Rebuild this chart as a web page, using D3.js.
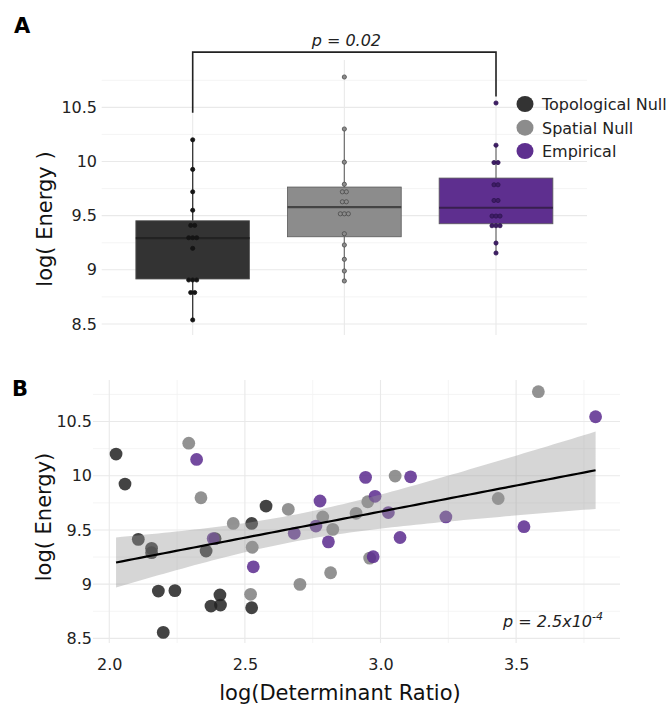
<!DOCTYPE html>
<html>
<head>
<meta charset="utf-8">
<script src="https://cdn.jsdelivr.net/npm/d3@7"></script>
<style>
  body { margin: 0; background: #fff; }
  text { font-family: "DejaVu Sans", Verdana, sans-serif; }
</style>
</head>
<body>
<div id="chart-container"></div>
<script>
var width = 672
var height = 704

// groups
var groups = ['Topological Null', 'Spatial Null', 'Empirical']
var color = ['#333333', '#8c8c8c', '#5e2f8f']
var dotFill = ['#141414', '#8c8c8c', '#3f1d66']
var dotStroke = ['#141414', '#4a4a4a', '#2d1450']
var whiskerColor = ['#333333', '#777777', '#777777']
var medianColor = ['#222222', '#444444', '#38204f']

// panel A box stats
var boxLo = [8.54, 8.897, 9.155]
var boxQ1 = [8.915, 9.305, 9.425]
var boxMed = [9.293, 9.579, 9.573]
var boxQ3 = [9.453, 9.764, 9.847]
var boxHi = [10.2, 10.30, 10.15]

// panel A dotplot bins (one entry per dot)
var topoDots = [10.2, 9.927, 9.72, 9.55, 9.41, 9.41, 9.296, 9.296, 9.296, 9.198, 8.906, 8.906, 8.906, 8.79, 8.79, 8.537]
var spatDots = [10.78, 10.30, 9.994, 9.79, 9.72, 9.72, 9.628, 9.628, 9.517, 9.517, 9.517, 9.333, 9.229, 9.097, 8.989, 8.897]
var empDots = [10.54, 10.15, 9.99, 9.99, 9.785, 9.785, 9.64, 9.64, 9.496, 9.496, 9.496, 9.407, 9.407, 9.407, 9.247, 9.155]
var bracketY = [10.45, 11.01, 10.60]
var pA = 'p = 0.02'

// panel B scatter
var topoX = [2.025, 2.058, 2.107, 2.156, 2.156, 2.181, 2.242, 2.199, 2.357, 2.39, 2.375, 2.408, 2.41, 2.525, 2.525, 2.578]
var topoY = [10.20, 9.923, 9.413, 9.33, 9.29, 8.936, 8.94, 8.555, 9.305, 9.42, 8.798, 8.90, 8.807, 9.56, 8.782, 9.72]
var spatX = [2.293, 2.338, 2.457, 2.527, 2.521, 2.66, 2.703, 2.787, 2.824, 2.816, 2.91, 2.953, 2.96, 3.054, 3.434, 3.582]
var spatY = [10.30, 9.797, 9.56, 9.34, 8.906, 9.69, 8.998, 9.62, 9.505, 9.105, 9.653, 9.76, 9.24, 9.997, 9.79, 10.775]
var empX = [2.322, 2.383, 2.531, 2.682, 2.762, 2.777, 2.808, 2.945, 2.973, 2.98, 3.029, 3.072, 3.111, 3.241, 3.529, 3.793]
var empY = [10.15, 9.42, 9.16, 9.469, 9.536, 9.767, 9.39, 9.985, 9.253, 9.81, 9.66, 9.43, 9.99, 9.62, 9.53, 10.544]
var scatterFill = ['#222222', '#7f7f7f', '#5b2a8e']

var yTicks = [8.5, 9, 9.5, 10, 10.5]
var yMinor = [8.75, 9.25, 9.75, 10.25, 10.75]
var xTicksB = [2.0, 2.5, 3.0, 3.5]
var xMinorB = [2.25, 2.75, 3.25, 3.75]

var svg = d3.select("#chart-container").append("svg").attr('width', width).attr('height', height)

function grid(g, x0, x1, y0, y1, xs, ys, cls, col, sw) {
  ys.forEach(function(v){
    g.append('line').attr('x1', x0).attr('x2', x1).attr('y1', v).attr('y2', v).attr('stroke', col).attr('stroke-width', sw)
  })
  xs.forEach(function(v){
    g.append('line').attr('x1', v).attr('x2', v).attr('y1', y0).attr('y2', y1).attr('stroke', col).attr('stroke-width', sw)
  })
}

// ---------- Panel A ----------
var xA = d3.scalePoint().domain(groups).range([101.7, 587]).padding(0.6)
var yA = d3.scaleLinear().domain([8.398, 10.937]).range([335, 60])
var gA = svg.append('g')

grid(gA, 101.7, 587, 60, 335, [], yMinor.map(yA), 'minor', '#f1f1f1', 0.8)
grid(gA, 101.7, 587, 60, 335, groups.map(function(d){return xA(d)}), yTicks.map(yA), 'major', '#e9e9e9', 1.1)

var bw = xA.step() * 0.75
groups.forEach(function(g, i) {
  var cx = xA(g)
  gA.append('line').attr('x1', cx).attr('x2', cx).attr('y1', yA(boxLo[i])).attr('y2', yA(boxHi[i]))
    .attr('stroke', whiskerColor[i]).attr('stroke-width', 1.3)
  gA.append('rect').attr('x', cx - bw/2).attr('width', bw)
    .attr('y', yA(boxQ3[i])).attr('height', yA(boxQ1[i]) - yA(boxQ3[i]))
    .attr('fill', color[i]).attr('stroke', '#5a5a5a').attr('stroke-width', 0.8)
  gA.append('line').attr('x1', cx - bw/2).attr('x2', cx + bw/2).attr('y1', yA(boxMed[i])).attr('y2', yA(boxMed[i]))
    .attr('stroke', medianColor[i]).attr('stroke-width', 2.2)
})

;[topoDots, spatDots, empDots].forEach(function(vals, i) {
  var bins = d3.groups(vals, function(v){ return v })
  bins.forEach(function(b) {
    var n = b[1].length
    b[1].forEach(function(v, k) {
      gA.append('circle').attr('cx', xA(groups[i]) + (k - (n-1)/2) * 4).attr('cy', yA(v)).attr('r', 2.1)
        .attr('fill', dotFill[i]).attr('stroke', dotStroke[i]).attr('stroke-width', 0.8)
    })
  })
})

// bracket
gA.append('path')
  .attr('d', 'M' + xA(groups[0]) + ',' + yA(bracketY[0]) + 'V' + yA(bracketY[1]) + 'H' + xA(groups[2]) + 'V' + yA(bracketY[2]))
  .attr('fill', 'none').attr('stroke', '#222').attr('stroke-width', 1.6)
gA.append('text').attr('x', (xA(groups[0]) + xA(groups[2]))/2 + 2).attr('y', 46).attr('text-anchor', 'middle')
  .attr('font-size', 16).attr('font-style', 'italic').attr('fill', '#222').text(pA)

var axA = gA.append('g').attr('transform', 'translate(101.7,0)')
  .call(d3.axisLeft(yA).tickValues(yTicks).tickSize(0).tickPadding(4.7).tickFormat(function(d){ return String(d) }))
axA.select('.domain').remove()
axA.selectAll('text').attr('font-size', 16).attr('fill', '#222').attr('font-family', '"DejaVu Sans", Verdana, sans-serif')

gA.append('text').attr('transform', 'translate(52,219) rotate(-90)').attr('text-anchor', 'middle')
  .attr('font-size', 21).attr('fill', '#111').text('log( Energy )')
svg.append('text').attr('x', 14).attr('y', 33).attr('font-size', 21).attr('font-weight', 'bold').text('A')

// legend
var legY = [104, 127.7, 151]
groups.forEach(function(g, i) {
  svg.append('ellipse').attr('cx', 525).attr('cy', legY[i]).attr('rx', 8.5).attr('ry', 8).attr('fill', color[i])
  svg.append('text').attr('x', 542).attr('y', legY[i] + 6).attr('font-size', 16).attr('fill', '#222').text(g)
})

// ---------- Panel B ----------
var xB = d3.scaleLinear().domain([1.94, 3.883]).range([93, 620])
var yB = d3.scaleLinear().domain([8.457, 10.883]).range([643, 380])
var gB = svg.append('g')

grid(gB, 93, 620, 380, 643, xMinorB.map(xB), yMinor.map(yB), 'minor', '#f1f1f1', 0.8)
grid(gB, 93, 620, 380, 643, xTicksB.map(xB), yTicks.map(yB), 'major', '#e9e9e9', 1.1)

var allX = [], allY = []
;[[topoX, topoY], [spatX, spatY], [empX, empY]].forEach(function(s, i) {
  s[0].forEach(function(x, k) {
    allX.push(x); allY.push(s[1][k])
    gB.append('circle').attr('cx', xB(x)).attr('cy', yB(s[1][k])).attr('r', 6.4)
      .attr('fill', scatterFill[i]).attr('fill-opacity', 0.85)
  })
})

// linear fit with 95% CI
var n = allX.length
var xbar = d3.mean(allX), ybar = d3.mean(allY)
var sxx = d3.sum(allX, function(x){ return (x - xbar) * (x - xbar) })
var sxy = d3.sum(allX, function(x, k){ return (x - xbar) * (allY[k] - ybar) })
var slope = sxy / sxx, icpt = ybar - slope * xbar
var sse = d3.sum(allX, function(x, k){ var r = allY[k] - (icpt + slope * x); return r * r })
var se = Math.sqrt(sse / (n - 2)), tq = 2.013
var xr = d3.extent(allX)
var xs = d3.range(0, 81).map(function(k){ return xr[0] + (xr[1] - xr[0]) * k / 80 })
var band = xs.map(function(x){
  var fit = icpt + slope * x
  var w = tq * se * Math.sqrt(1/n + (x - xbar) * (x - xbar) / sxx)
  return { x: x, lo: fit - w, hi: fit + w, fit: fit }
})
gB.append('path').datum(band)
  .attr('fill', '#999999').attr('fill-opacity', 0.4)
  .attr('d', d3.area().x(function(d){ return xB(d.x) }).y0(function(d){ return yB(d.lo) }).y1(function(d){ return yB(d.hi) }))
gB.append('path').datum(band)
  .attr('fill', 'none').attr('stroke', '#000').attr('stroke-width', 2.2)
  .attr('d', d3.line().x(function(d){ return xB(d.x) }).y(function(d){ return yB(d.fit) }))

var axBy = gB.append('g').attr('transform', 'translate(93,0)')
  .call(d3.axisLeft(yB).tickValues(yTicks).tickSize(0).tickPadding(1).tickFormat(function(d){ return String(d) }))
axBy.select('.domain').remove()
axBy.selectAll('text').attr('font-size', 16).attr('fill', '#222').attr('font-family', '"DejaVu Sans", Verdana, sans-serif')

var axBx = gB.append('g').attr('transform', 'translate(0,643)')
  .call(d3.axisBottom(xB).tickValues(xTicksB).tickSize(0).tickPadding(16).tickFormat(d3.format('.1f')))
axBx.select('.domain').remove()
axBx.selectAll('text').attr('font-size', 16).attr('fill', '#222').attr('font-family', '"DejaVu Sans", Verdana, sans-serif')

gB.append('text').attr('transform', 'translate(51,517) rotate(-90)').attr('text-anchor', 'middle')
  .attr('font-size', 21).attr('fill', '#111').text('log( Energy)')
gB.append('text').attr('x', 340).attr('y', 700).attr('text-anchor', 'middle')
  .attr('font-size', 21).attr('fill', '#111').text('log(Determinant Ratio)')
svg.append('text').attr('x', 12).attr('y', 396).attr('font-size', 21).attr('font-weight', 'bold').text('B')

var pB = gB.append('text').attr('x', 603).attr('y', 627).attr('text-anchor', 'end')
  .attr('font-size', 16).attr('font-style', 'italic').attr('fill', '#222')
pB.append('tspan').text('p = 2.5x10')
pB.append('tspan').attr('font-size', 11).attr('dy', -7).text('-4')
</script>
</body>
</html>
